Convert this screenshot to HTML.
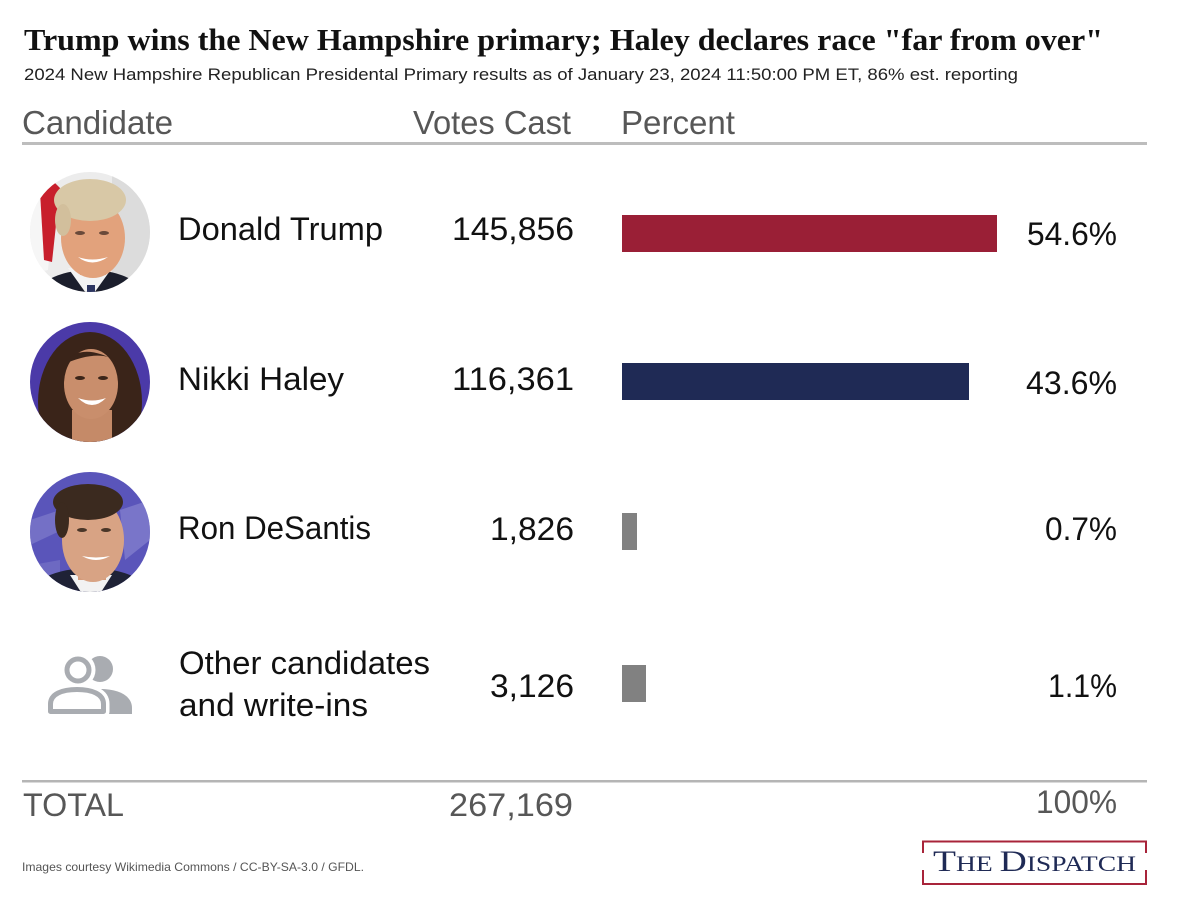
<!DOCTYPE html>
<html>
<head>
<meta charset="utf-8">
<style>
  html,body{margin:0;padding:0;background:#fff;}
  svg{display:block;}
  text{font-family:"Liberation Sans", Arial, sans-serif;}
  .serif{font-family:"Liberation Serif", "Times New Roman", serif;}
</style>
</head>
<body>
<svg width="1200" height="900" viewBox="0 0 1200 900" xmlns="http://www.w3.org/2000/svg">
  <defs>
    <clipPath id="c1"><circle cx="90" cy="232" r="60"/></clipPath>
    <clipPath id="c2"><circle cx="90" cy="382" r="60"/></clipPath>
    <clipPath id="c3"><circle cx="90" cy="532" r="60"/></clipPath>
  </defs>
  <rect width="1200" height="900" fill="#fff"/>

  <!-- Title -->
  <text class="serif" x="24" y="50" font-size="31" font-weight="bold" fill="#111" textLength="1079" lengthAdjust="spacingAndGlyphs">Trump wins the New Hampshire primary; Haley declares race "far from over"</text>
  <text x="24" y="80" font-size="17" fill="#222" textLength="994" lengthAdjust="spacingAndGlyphs">2024 New Hampshire Republican Presidental Primary results as of January 23, 2024 11:50:00 PM ET, 86% est. reporting</text>

  <!-- Header -->
  <text x="22" y="134" font-size="33" fill="#575757" textLength="151" lengthAdjust="spacingAndGlyphs">Candidate</text>
  <text x="413" y="134" font-size="33" fill="#575757" textLength="158" lengthAdjust="spacingAndGlyphs">Votes Cast</text>
  <text x="621" y="134" font-size="33" fill="#575757" textLength="114" lengthAdjust="spacingAndGlyphs">Percent</text>
  <rect x="22" y="142" width="1125" height="3" fill="#bdbdbd"/>

  <!-- Trump photo -->
  <g clip-path="url(#c1)">
    <rect x="28" y="170" width="125" height="125" fill="#ececec"/>
    <rect x="112" y="170" width="45" height="125" fill="#dcdcdc"/>
    <polygon points="28,200 48,178 56,182 48,270 28,275" fill="#f6f6f6"/>
    <polygon points="40,192 54,182 60,188 52,262 44,260" fill="#c81f2c"/>
    <ellipse cx="90" cy="302" rx="58" ry="32" fill="#1b1e2c"/>
    <polygon points="68,268 112,268 92,296 88,296" fill="#f3f3f3"/>
    <rect x="80" y="255" width="26" height="20" fill="#dfa07a"/>
    <ellipse cx="93" cy="238" rx="32" ry="40" fill="#e2a27c"/>
    <ellipse cx="90" cy="200" rx="36" ry="21" fill="#d8c8a6"/>
    <ellipse cx="63" cy="220" rx="8" ry="16" fill="#d2bf9c"/>
    <ellipse cx="80" cy="233" rx="5" ry="2" fill="#6a4a3a"/>
    <ellipse cx="104" cy="233" rx="5" ry="2" fill="#6a4a3a"/>
    <path d="M78,257 Q92,268 108,257 Q92,262 78,257 Z" fill="#fff"/>
    <rect x="87" y="285" width="8" height="10" fill="#2c3560"/>
  </g>

  <!-- Haley photo -->
  <g clip-path="url(#c2)">
    <rect x="28" y="320" width="125" height="125" fill="#4b3aa8"/>
    <ellipse cx="90" cy="402" rx="52" ry="70" fill="#3a2419"/>
    <rect x="72" y="410" width="40" height="40" fill="#c58a68"/>
    <ellipse cx="91" cy="384" rx="27" ry="35" fill="#c98e6c"/>
    <path d="M62,365 Q80,340 118,362 Q100,348 62,365 Z" fill="#3a2419"/>
    <ellipse cx="80" cy="378" rx="5" ry="2" fill="#3b2519"/>
    <ellipse cx="103" cy="378" rx="5" ry="2" fill="#3b2519"/>
    <path d="M78,398 Q92,412 106,398 Q92,403 78,398 Z" fill="#fff"/>
  </g>

  <!-- DeSantis photo -->
  <g clip-path="url(#c3)">
    <rect x="28" y="470" width="125" height="125" fill="#5a55ba"/>
    <path d="M30,520 L60,510 L62,530 L30,545 Z" fill="#8682cf" opacity="0.6"/>
    <path d="M120,510 L150,500 L150,540 L125,560 Z" fill="#8e8ad4" opacity="0.6"/>
    <path d="M32,565 L60,560 L60,575 L32,580 Z" fill="#7a76c8" opacity="0.6"/>
    <ellipse cx="90" cy="598" rx="62" ry="30" fill="#1f2236"/>
    <polygon points="70,575 112,575 96,600 86,600" fill="#f2f2f2"/>
    <rect x="78" y="560" width="28" height="20" fill="#d49c7c"/>
    <ellipse cx="93" cy="540" rx="31" ry="42" fill="#d8a384"/>
    <ellipse cx="88" cy="502" rx="35" ry="18" fill="#3b2a1f"/>
    <ellipse cx="62" cy="520" rx="7" ry="18" fill="#3b2a1f"/>
    <ellipse cx="82" cy="530" rx="5" ry="2" fill="#4a3628"/>
    <ellipse cx="106" cy="530" rx="5" ry="2" fill="#4a3628"/>
    <path d="M82,556 Q96,564 110,556 Q96,559 82,556 Z" fill="#fff"/>
  </g>

  <!-- Other candidates icon -->
  <g>
    <circle cx="100" cy="669" r="13" fill="#a9acb1"/>
    <path d="M100,689 C121,689 132,697 132,708 V714 H100 Z" fill="#a9acb1"/>
    <circle cx="78" cy="670" r="17.5" fill="#fff"/>
    <path d="M50.5,711.5 V704 C50.5,694 62,689.5 77,689.5 C92,689.5 103.5,694 103.5,704 V711.5 Z" fill="#fff" stroke="#fff" stroke-width="12" stroke-linejoin="round"/>
    <circle cx="78" cy="670" r="11" fill="none" stroke="#a9acb1" stroke-width="5"/>
    <path d="M50.5,711.5 V704 C50.5,694 62,689.5 77,689.5 C92,689.5 103.5,694 103.5,704 V711.5 Z" fill="none" stroke="#a9acb1" stroke-width="5" stroke-linejoin="round"/>
  </g>

  <!-- Names -->
  <text x="178" y="240" font-size="32" fill="#111" textLength="205" lengthAdjust="spacingAndGlyphs">Donald Trump</text>
  <text x="178" y="390" font-size="32" fill="#111" textLength="166" lengthAdjust="spacingAndGlyphs">Nikki Haley</text>
  <text x="178" y="539" font-size="32" fill="#111" textLength="193" lengthAdjust="spacingAndGlyphs">Ron DeSantis</text>
  <text x="179" y="674" font-size="32" fill="#111" textLength="251" lengthAdjust="spacingAndGlyphs">Other candidates</text>
  <text x="179" y="716" font-size="32" fill="#111" textLength="189" lengthAdjust="spacingAndGlyphs">and write-ins</text>

  <!-- Votes -->
  <text x="574" y="240" font-size="32" fill="#111" text-anchor="end" textLength="122" lengthAdjust="spacingAndGlyphs">145,856</text>
  <text x="574" y="390" font-size="32" fill="#111" text-anchor="end" textLength="122" lengthAdjust="spacingAndGlyphs">116,361</text>
  <text x="574" y="540" font-size="32" fill="#111" text-anchor="end" textLength="84" lengthAdjust="spacingAndGlyphs">1,826</text>
  <text x="574" y="697" font-size="32" fill="#111" text-anchor="end" textLength="84" lengthAdjust="spacingAndGlyphs">3,126</text>

  <!-- Bars -->
  <rect x="622" y="215" width="375" height="37" fill="#9a1f36"/>
  <rect x="622" y="363" width="347" height="37" fill="#1f2a55"/>
  <rect x="622" y="513" width="15" height="37" fill="#818181"/>
  <rect x="622" y="665" width="24" height="37" fill="#818181"/>

  <!-- Percents -->
  <text x="1117" y="245" font-size="32" fill="#111" text-anchor="end" textLength="90" lengthAdjust="spacingAndGlyphs">54.6%</text>
  <text x="1117" y="394" font-size="32" fill="#111" text-anchor="end" textLength="91" lengthAdjust="spacingAndGlyphs">43.6%</text>
  <text x="1117" y="540" font-size="32" fill="#111" text-anchor="end" textLength="72" lengthAdjust="spacingAndGlyphs">0.7%</text>
  <text x="1117" y="697" font-size="32" fill="#111" text-anchor="end" textLength="69" lengthAdjust="spacingAndGlyphs">1.1%</text>

  <!-- Total -->
  <rect x="22" y="780" width="1125" height="2.5" fill="#b5b5b5"/>
  <text x="23" y="816" font-size="32" fill="#575757" textLength="101" lengthAdjust="spacingAndGlyphs">TOTAL</text>
  <text x="573" y="816" font-size="32" fill="#575757" text-anchor="end" textLength="124" lengthAdjust="spacingAndGlyphs">267,169</text>
  <text x="1117" y="813" font-size="32" fill="#575757" text-anchor="end" textLength="81" lengthAdjust="spacingAndGlyphs">100%</text>

  <!-- Footer -->
  <text x="22" y="871" font-size="12" fill="#555" textLength="342" lengthAdjust="spacingAndGlyphs">Images courtesy Wikimedia Commons / CC-BY-SA-3.0 / GFDL.</text>

  <!-- Logo -->
  <g fill="none" stroke="#a8243a" stroke-width="2">
    <polyline points="923,853 923,841.5 1146,841.5 1146,853"/>
    <polyline points="923,870 923,884 1146,884 1146,870"/>
  </g>
  <text class="serif" x="933" y="871" fill="#1f2a55" textLength="203" lengthAdjust="spacingAndGlyphs"><tspan font-size="30">T</tspan><tspan font-size="22">HE </tspan><tspan font-size="30">D</tspan><tspan font-size="22">ISPATCH</tspan></text>
</svg>
</body>
</html>
